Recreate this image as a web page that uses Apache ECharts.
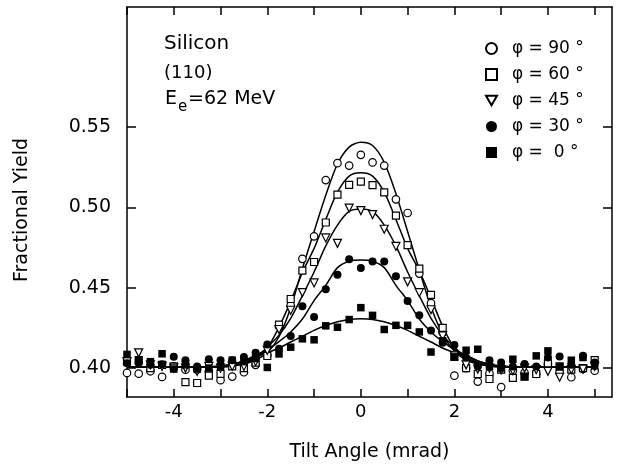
<!DOCTYPE html>
<html><head><meta charset="utf-8">
<script src="https://cdn.jsdelivr.net/npm/echarts@6/dist/echarts.min.js"></script>
<style>html,body{margin:0;padding:0;background:#fff}#c{width:635px;height:473px}</style>
</head><body><div id="c"></div>
<script>
// ---- data ----
const tiltX = [-5,-4.75,-4.5,-4.25,-4,-3.75,-3.5,-3.25,-3,-2.75,-2.5,-2.25,-2,-1.75,-1.5,-1.25,-1,-0.75,-0.5,-0.25,0,0.25,0.5,0.75,1,1.25,1.5,1.75,2,2.25,2.5,2.75,3,3.25,3.5,3.75,4,4.25,4.5,4.75,5];
const phi90 = [0.397,0.3965,0.398,0.3945,0.401,0.399,0.399,0.398,0.3925,0.3947,0.3974,0.402,0.408,0.426,0.439,0.468,0.482,0.517,0.5275,0.526,0.5327,0.528,0.526,0.505,0.4965,0.4588,0.4404,0.422,0.3953,0.400,0.3916,0.3967,0.3881,0.3984,0.397,0.3963,0.4025,0.3975,0.3943,0.3994,0.3984];
const phi60 = [0.404,0.405,0.400,0.402,0.401,0.3913,0.3907,0.3953,0.3964,0.401,0.400,0.4034,0.4075,0.427,0.443,0.4606,0.466,0.4906,0.508,0.514,0.516,0.5138,0.5093,0.4949,0.4765,0.4619,0.4455,0.425,0.407,0.400,0.3963,0.3932,0.399,0.3939,0.3947,0.3963,0.403,0.401,0.399,0.400,0.4049];
const phi45 = [0.404,0.4095,0.402,0.401,0.400,0.400,0.398,0.401,0.400,0.401,0.401,0.404,0.411,0.424,0.436,0.447,0.453,0.481,0.4776,0.4996,0.498,0.4955,0.4864,0.4757,0.4537,0.4469,0.4363,0.420,0.4076,0.402,0.3994,0.400,0.3988,0.3984,0.400,0.399,0.398,0.3943,0.399,0.3994,0.401];
const phi30 = [0.403,0.403,0.402,0.4024,0.4071,0.4049,0.401,0.4055,0.4049,0.4049,0.4069,0.4095,0.4146,0.412,0.420,0.4385,0.4318,0.449,0.458,0.4678,0.4623,0.4664,0.4664,0.4572,0.4418,0.4328,0.4234,0.4158,0.4143,0.4066,0.401,0.4049,0.4035,0.401,0.4025,0.401,0.4066,0.4072,0.402,0.4076,0.4035];
const phi0 = [0.4085,0.4045,0.404,0.4089,0.3994,0.402,0.3994,0.400,0.401,0.4049,0.404,0.406,0.4004,0.4088,0.413,0.4182,0.4176,0.4263,0.4254,0.4302,0.4376,0.4328,0.424,0.4266,0.4266,0.4225,0.410,0.417,0.407,0.4111,0.4117,0.401,0.400,0.4055,0.3947,0.4076,0.4107,0.4008,0.4049,0.4066,0.4014];

const fitX = [-5,-4.5,-4,-3.5,-3,-2.75,-2.5,-2.25,-2,-1.75,-1.5,-1.25,-1,-0.75,-0.5,-0.25,0,0.25,0.5,0.75,1,1.25,1.5,1.75,2,2.25,2.5,2.75,3,3.5,4,4.5,5];
const fit90 = [0.4005,0.4005,0.4005,0.4005,0.4008,0.4013,0.4025,0.405,0.4095,0.4195,0.4375,0.462,0.485,0.5075,0.527,0.5375,0.5405,0.5385,0.528,0.5085,0.485,0.461,0.438,0.421,0.4105,0.405,0.4025,0.4013,0.4008,0.4005,0.4005,0.4005,0.4005];
const fit60 = [0.4005,0.4005,0.4005,0.4005,0.4008,0.4015,0.403,0.406,0.4125,0.4255,0.4415,0.4595,0.4745,0.4925,0.5095,0.5195,0.5215,0.5195,0.5095,0.4925,0.4745,0.4605,0.4435,0.426,0.4125,0.406,0.403,0.4015,0.4008,0.4005,0.4005,0.4005,0.4005];
const fit45 = [0.4005,0.4005,0.4005,0.4005,0.4008,0.4015,0.4035,0.407,0.413,0.4205,0.431,0.445,0.4598,0.476,0.489,0.4975,0.499,0.4975,0.489,0.476,0.4598,0.445,0.431,0.4205,0.413,0.407,0.4035,0.4015,0.4008,0.4005,0.4005,0.4005,0.4005];
const fit30 = [0.4005,0.4005,0.4005,0.4005,0.401,0.4022,0.4045,0.408,0.4115,0.4165,0.4225,0.4305,0.442,0.4515,0.4625,0.4665,0.4672,0.4665,0.4625,0.4515,0.442,0.4305,0.4225,0.4165,0.4115,0.408,0.4045,0.4022,0.401,0.4005,0.4005,0.4005,0.4005];
const fit0 = [0.4005,0.4005,0.4005,0.4006,0.4013,0.4025,0.4045,0.4068,0.4095,0.4125,0.4162,0.4198,0.4235,0.4265,0.4288,0.4303,0.4307,0.4303,0.4288,0.4265,0.4235,0.4198,0.4162,0.4125,0.4095,0.4068,0.4045,0.4025,0.4013,0.4006,0.4005,0.4005,0.4005];

const seriesNames = ['φ = 90 °','φ = 60 °','φ = 45 °','φ = 30 °','φ =  0 °'];
const xTicks = [-5,-4,-3,-2,-1,0,1,2,3,4,5];
const xTickLabels = [-4,-2,0,2,4];
const yTicks = [0.40,0.45,0.50,0.55];
const xTitle = 'Tilt Angle (mrad)';
const yTitle = 'Fractional Yield';

// ---- chart ----
const FONT = 'DejaVu Sans';
const zip = (xs, ys) => xs.map((x, i) => [x, ys[i]]);
const chart = echarts.init(document.getElementById('c'), null, {renderer: 'canvas'});

const xBase = {
  type: 'value', min: -5, max: 5.37,
  splitLine: {show: false},
  axisLine: {show: true, onZero: false, lineStyle: {color: '#000', width: 1.5}},
  axisTick: {show: true, inside: true, length: 8, customValues: xTicks, lineStyle: {color: '#000', width: 1.5}}
};
const yBase = {
  type: 'value', min: 0.382, max: 0.6247,
  splitLine: {show: false},
  axisLine: {show: true, onZero: false, lineStyle: {color: '#000', width: 1.5}},
  axisTick: {show: true, inside: true, length: 9, customValues: yTicks, lineStyle: {color: '#000', width: 1.5}}
};

const openStyle = {color: '#fff', borderColor: '#000', borderWidth: 1.2, opacity: 1};
const fillStyle = {color: '#000', borderColor: '#000', borderWidth: 0, opacity: 1};
const triDown = 'path://M0,0L10,0L5,8.66Z';

const curve = (d) => ({
  type: 'line', data: zip(fitX, d), showSymbol: false, smooth: 0.3, silent: true,
  lineStyle: {color: '#000', width: 1.5}, z: 2, xAxisIndex: 0, yAxisIndex: 0
});
const pts = (name, d, symbol, size, style) => ({
  type: 'scatter', name, data: zip(tiltX, d), symbol, symbolSize: size,
  itemStyle: style, z: 3, xAxisIndex: 0, yAxisIndex: 0
});

chart.setOption({
  animation: false,
  backgroundColor: '#fff',
  textStyle: {fontFamily: FONT},
  grid: {left: 127, right: 23, top: 7, bottom: 76},
  xAxis: [
    Object.assign({}, xBase, {
      position: 'bottom',
      name: xTitle, nameLocation: 'middle', nameGap: 46,
      nameTextStyle: {fontFamily: FONT, fontSize: 19, color: '#000'},
      axisLabel: {show: true, customValues: xTickLabels, margin: 6, fontFamily: FONT, fontSize: 18, color: '#000',
                  formatter: v => (v < 0 ? '-' + Math.abs(v) : String(v))}
    }),
    Object.assign({}, xBase, {position: 'top', axisLabel: {show: false}})
  ],
  yAxis: [
    Object.assign({}, yBase, {
      position: 'left',
      name: yTitle, nameLocation: 'middle', nameGap: 95, nameRotate: 90,
      nameTextStyle: {fontFamily: FONT, fontSize: 19, color: '#000', padding: [0, 16, 0, 0]},
      axisLabel: {show: true, customValues: yTicks, margin: 16, fontFamily: FONT, fontSize: 19, color: '#000',
                  formatter: v => v.toFixed(2)}
    }),
    Object.assign({}, yBase, {position: 'right', axisLabel: {show: false}})
  ],
  legend: {
    data: seriesNames, orient: 'vertical', left: 480, top: 35,
    itemWidth: 11, itemHeight: 11, itemGap: 9,
    textStyle: {fontFamily: FONT, fontSize: 17, color: '#000', padding: [0, 0, 0, 10]},
    selectedMode: false
  },
  graphic: [
    {type: 'text', left: 164, top: 34, style: {text: 'Silicon', font: '20px "DejaVu Sans"', fill: '#000'}},
    {type: 'text', left: 164, top: 64, style: {text: '(110)', font: '18px "DejaVu Sans"', fill: '#000'}},
    {type: 'text', left: 165, top: 90, style: {text: 'E', font: '19px "DejaVu Sans"', fill: '#000'}},
    {type: 'text', left: 178, top: 100, style: {text: 'e', font: '15px "DejaVu Sans"', fill: '#000'}},
    {type: 'text', left: 188, top: 90, style: {text: '=62 MeV', font: '19px "DejaVu Sans"', fill: '#000'}}
  ],
  series: [
    curve(fit90), curve(fit60), curve(fit45), curve(fit30), curve(fit0),
    pts(seriesNames[0], phi90, 'circle', 7.5, openStyle),
    pts(seriesNames[1], phi60, 'rect', 7, openStyle),
    pts(seriesNames[2], phi45, triDown, 8, openStyle),
    pts(seriesNames[3], phi30, 'circle', 8, fillStyle),
    pts(seriesNames[4], phi0, 'rect', 7.5, fillStyle)
  ]
});
</script>
</body></html>
